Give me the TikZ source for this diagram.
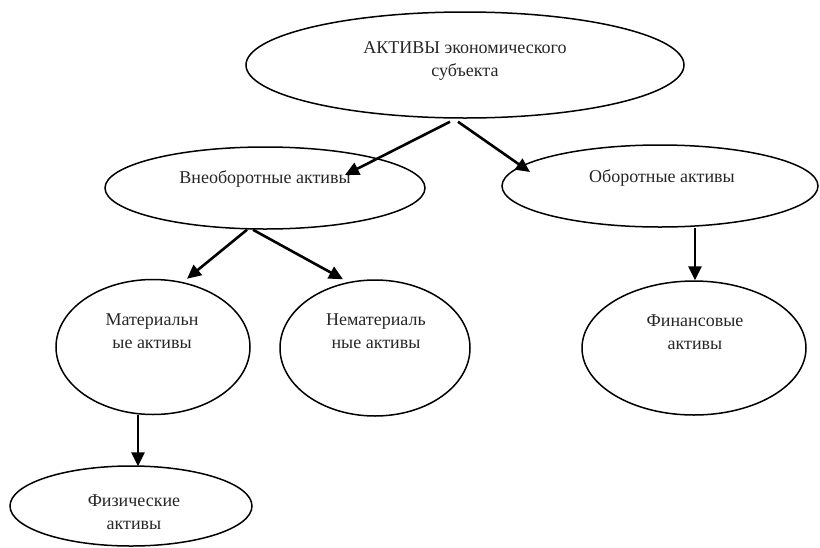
\documentclass[tikz,border=0pt]{standalone}
\usepackage{fontspec}
\setmainfont{Liberation Serif}
\usetikzlibrary{shapes.geometric,calc,arrows.meta}
\begin{document}
\begin{tikzpicture}[x=1pt,y=-1pt,
  ell/.style={draw,ellipse,line width=1.5pt,inner sep=0pt},
  lbl/.style={font=\fontsize{18}{23}\selectfont,align=center,text=black!85},
  arr/.style={line width=2.6pt,-{Triangle[length=14pt,width=13pt]}}]
\useasboundingbox (0,0) rectangle (820,547);
% ellipses
\node[ell,minimum width=438pt,minimum height=106pt] (top) at (465,65) {};
\node[ell,minimum width=320pt,minimum height=82pt] (vne) at (265,188) {};
\node[ell,minimum width=316pt,minimum height=82pt] (obo) at (660,186) {};
\node[ell,minimum width=194pt,minimum height=135pt] (mat) at (153,347) {};
\node[ell,minimum width=190pt,minimum height=136pt] (nem) at (375,348) {};
\node[ell,minimum width=224pt,minimum height=134pt] (fin) at (694,348) {};
\node[ell,minimum width=242pt,minimum height=80pt] (fiz) at (131,506) {};
% labels
\node[lbl] (toptxt) at (465,61) {АКТИВЫ экономического\\субъекта};
\node[lbl] (vnetxt) at (265,179) {Внеоборотные активы};
\node[lbl] (obotxt) at (662,178) {Оборотные активы};
\node[lbl] (mattxt) at (152,331) {Материальн\\ые активы};
\node[lbl] (nemtxt) at (376,331) {Нематериаль\\ные активы};
\node[lbl] (fintxt) at (695,332) {Финансовые\\активы};
\node[lbl] (fiztxt) at (134,512) {Физические\\активы};
% arrows
\draw[arr] ($(top.south)+(-15,3)$) -- ($(vne.center)+(80,-13)$);
\draw[arr] ($(top.south)+(-7,3)$) -- ($(obo.center)+(-130,-14)$);
\draw[arr] ($(vne.south)+(-18,0)$) -- ($(mat.north)+(34,0)$);
\draw[arr] ($(vne.south)+(-12,0)$) -- ($(nem.north)+(-32,0)$);
\draw[arr] ($(obo.south)+(35,0)$) -- ($(fin.north)+(1,0)$);
\draw[arr] ($(mat.south)+(-15,0)$) -- ($(fiz.north)+(7,1)$);
\end{tikzpicture}
\end{document}
